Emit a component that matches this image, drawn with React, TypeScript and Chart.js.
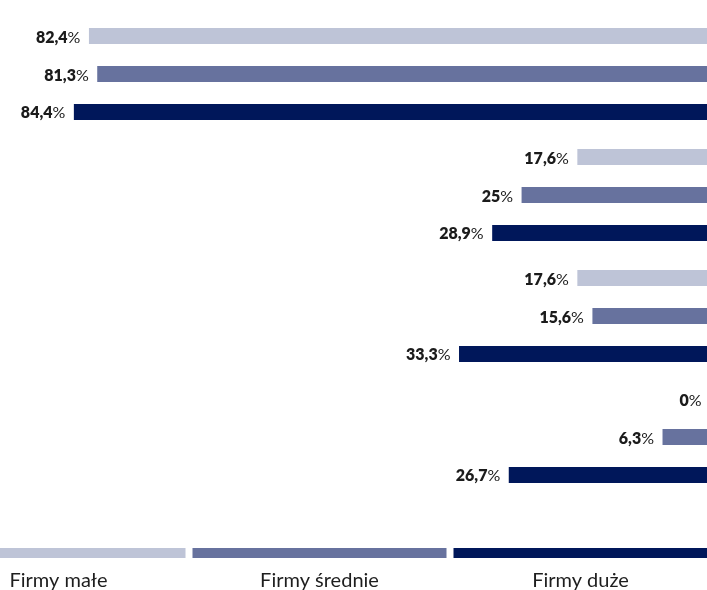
import React, { useEffect, useRef } from "react";
import { Chart, registerables } from "chart.js";

Chart.register(...registerables);

const categories = ["Grupa 1", "Grupa 2", "Grupa 3", "Grupa 4"];
const seriesNames = ["Firmy małe", "Firmy średnie", "Firmy duże"];
const seriesColors = ["#bec4d7", "#67729e", "#00175a"];
const smallFirms = [82.4, 17.6, 17.6, 0];
const mediumFirms = [81.3, 25, 15.6, 6.3];
const largeFirms = [84.4, 28.9, 33.3, 26.7];

const FONT = "Lato, 'Noto Sans', sans-serif";

const valueLabelsPlugin = {
  id: "valueLabels",
  afterDatasetsDraw(chart: any) {
    const ctx = chart.ctx;
    ctx.save();
    ctx.fillStyle = "#1b1b1b";
    ctx.textAlign = "right";
    ctx.textBaseline = "alphabetic";
    chart.data.datasets.forEach((ds: any, di: number) => {
      const meta = chart.getDatasetMeta(di);
      meta.data.forEach((el: any, i: number) => {
        const v = ds.data[i];
        const numText = String(v).replace(".", ",");
        const left = Math.min(el.x, el.base);
        const xr = left - 8.5;
        const y = el.y + 6.5;
        ctx.font = `400 16px ${FONT}`;
        const pw = ctx.measureText("%").width;
        ctx.fillText("%", xr, y);
        ctx.font = `800 16px ${FONT}`;
        ctx.fillText(numText, xr - pw, y);
      });
    });
    ctx.restore();
  },
};

const bottomLegendPlugin = {
  id: "bottomLegend",
  afterDraw(chart: any) {
    const ctx = chart.ctx;
    const segW = 254;
    const gap = 7;
    const start = -68.5;
    ctx.save();
    chart.data.datasets.forEach((ds: any, i: number) => {
      const x0 = start + i * (segW + gap);
      ctx.fillStyle = ds.backgroundColor;
      ctx.fillRect(x0, 548, segW, 10);
      ctx.fillStyle = "#1e1e1e";
      ctx.font = `400 20px ${FONT}`;
      ctx.textAlign = "center";
      ctx.textBaseline = "alphabetic";
      ctx.fillText(ds.label, x0 + segW / 2, 587);
    });
    ctx.restore();
  },
};

export default function App() {
  const ref = useRef<HTMLCanvasElement | null>(null);
  useEffect(() => {
    document.body.style.margin = "0";
    const values = [smallFirms, mediumFirms, largeFirms];
    const chart = new Chart(ref.current as HTMLCanvasElement, {
      type: "bar",
      data: {
        labels: categories,
        datasets: seriesNames.map((name, i) => ({
          label: name,
          data: values[i],
          backgroundColor: seriesColors[i],
          borderWidth: 0,
          categoryPercentage: 0.942,
          barPercentage: 0.421,
        })),
      },
      options: {
        indexAxis: "y",
        responsive: false,
        animation: false,
        devicePixelRatio: 1,
        layout: { padding: { left: 0, right: 0, top: 13.5, bottom: 92.5 } },
        scales: {
          x: { display: false, reverse: true, min: 0, max: 94.2 },
          y: { display: false },
        },
        plugins: {
          legend: { display: false },
          tooltip: { enabled: false },
        },
      } as any,
      plugins: [valueLabelsPlugin, bottomLegendPlugin],
    });
    return () => chart.destroy();
  }, []);
  return (
    <div
      style={{
        position: "fixed",
        left: 0,
        top: 0,
        width: 707,
        height: 590,
        overflow: "hidden",
        background: "#fff",
      }}
    >
      <canvas ref={ref} width={710} height={590} style={{ display: "block" }} />
    </div>
  );
}
